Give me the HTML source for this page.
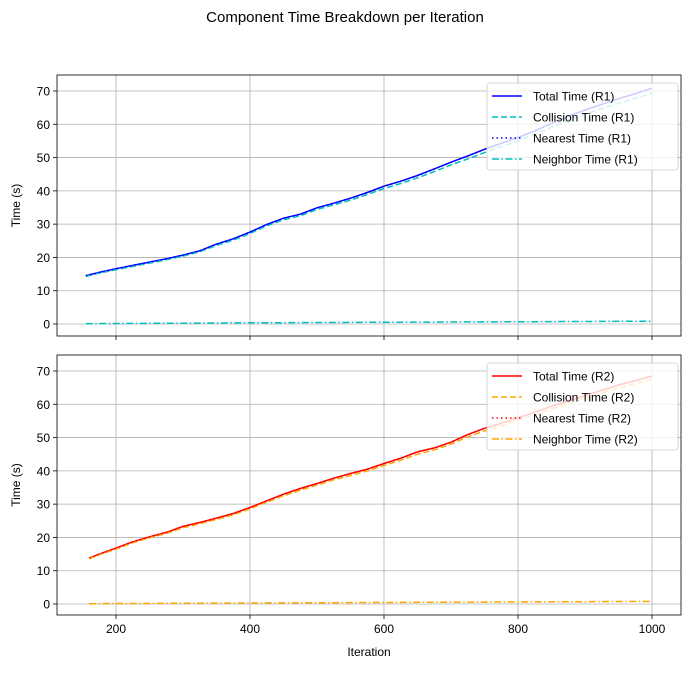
<!DOCTYPE html>
<html><head><meta charset="utf-8"><style>
body{margin:0;background:#fff;}
svg text{font-family:"Liberation Sans","DejaVu Sans",sans-serif;}
</style></head><body>
<svg id="c" width="690" height="669" xmlns="http://www.w3.org/2000/svg">
<rect width="690" height="669" fill="#fff"/>
<text x="345" y="22" text-anchor="middle" font-size="15">Component Time Breakdown per Iteration</text>
</svg>
<script>
const iters1=[155,175,200,225,250,275,300,325,350,375,400,425,450,475,500,525,550,575,600,625,650,675,700,725,750,775,800,825,850,875,900,925,950,975,1000];
const total1=[14.5,15.5,16.6,17.6,18.6,19.6,20.7,22,24,25.6,27.6,29.9,31.8,33,34.9,36.3,37.8,39.5,41.4,42.9,44.6,46.6,48.6,50.5,52.5,54.3,56,58,60.3,62.4,64.3,66,67.7,69.2,70.8];
const collision1=[14.3,15.3,16.3,17.3,18.3,19.3,20.4,21.7,23.6,25.2,27.2,29.5,31.3,32.5,34.4,35.8,37.2,38.9,40.7,42.2,43.9,45.8,47.8,49.6,51.5,53.3,55,57,59.1,61.2,63,64.7,66.3,67.8,69.3];
const nearest1=total1.map(v=>v);
const neighbor1=[0.1,0.12,0.15,0.17,0.2,0.22,0.25,0.27,0.3,0.32,0.35,0.37,0.4,0.42,0.44,0.46,0.48,0.5,0.52,0.54,0.56,0.58,0.6,0.62,0.64,0.66,0.68,0.7,0.72,0.74,0.76,0.78,0.8,0.82,0.85];
const iters2=[160,175,200,225,250,275,300,325,350,375,400,425,450,475,500,525,550,575,600,625,650,675,700,725,750,775,800,825,850,875,900,925,950,975,1000];
const total2=[13.8,15,16.8,18.7,20.2,21.5,23.3,24.5,25.8,27.2,29,31,33,34.7,36.2,37.8,39.2,40.5,42.2,43.8,45.7,46.9,48.6,50.9,52.8,54.3,55.9,57.6,59.4,61,62.6,64.2,65.8,67.1,68.5];
const collision2=[13.6,14.8,16.5,18.4,19.9,21.2,22.9,24.1,25.4,26.8,28.6,30.6,32.5,34.2,35.7,37.3,38.6,40,41.6,43.2,45,46.3,48,50.2,52,53.6,55.2,56.8,58.6,60.2,61.8,63.4,64.9,66.2,67.5];
const nearest2=total2.map(v=>v);
const neighbor2=[0.1,0.12,0.14,0.16,0.18,0.2,0.22,0.24,0.26,0.28,0.3,0.32,0.34,0.36,0.38,0.4,0.42,0.44,0.46,0.48,0.5,0.52,0.54,0.56,0.58,0.6,0.62,0.64,0.66,0.68,0.7,0.72,0.74,0.76,0.78];
const xTicks=[200,400,600,800,1000];
const yTicks=[0,10,20,30,40,50,60,70];

const NS="http://www.w3.org/2000/svg";
const svg=document.getElementById('c');
function el(t,a,p){const e=document.createElementNS(NS,t);for(const k in a)e.setAttribute(k,a[k]);(p||svg).appendChild(e);return e;}
const L=57,R=681;
const xs=v=>116+(v-200)*0.67;
function panel(top,bot,y70,y0,series,colors,labels,showX,pname){
  const g=el('g',{});
  
  
  const ys=v=>y0+(y70-y0)*v/70;
  xTicks.forEach(t=>{
    const x=xs(t);
    const gl=el('line',{x1:x,x2:x,y1:top,y2:bot,stroke:'#b0b0b0','stroke-width':0.8},g);
    
    el('line',{x1:x,x2:x,y1:bot,y2:bot+4,stroke:'#000','stroke-width':0.8},g);
    if(showX){const tx=el('text',{x:x,y:bot+18,'text-anchor':'middle','font-size':12},g);tx.textContent=t;
      }
  });
  yTicks.forEach(t=>{
    const y=ys(t);
    const gl=el('line',{x1:L,x2:R,y1:y,y2:y,stroke:'#b0b0b0','stroke-width':0.8},g);
    
    el('line',{x1:L-4,x2:L,y1:y,y2:y,stroke:'#000','stroke-width':0.8},g);
    const tx=el('text',{x:L-7,y:y+4.5,'text-anchor':'end','font-size':12},g);tx.textContent=t;
    
  });
  const dashes=['','6,3','1.5,3','7,2.5,1.5,2.5'];
  series.forEach((s,i)=>{
    const d=s.x.map((v,j)=>(j?'L':'M')+xs(v).toFixed(1)+','+ys(s.y[j]).toFixed(1)).join('');
    const p=el('path',{d:d,fill:'none',stroke:colors[i],'stroke-width':1.5,'stroke-dasharray':dashes[i]},g);
    
    
  });
  const fr=el('rect',{x:L,y:top,width:R-L,height:bot-top,fill:'none',stroke:'#000','stroke-width':0.8},g);
  
  const yl=el('text',{x:0,y:0,'text-anchor':'middle','font-size':12,transform:`translate(20,${(top+bot)/2}) rotate(-90)`},g);
  yl.textContent='Time (s)';
  
  const lg=el('g',{},g);
  
  el('rect',{x:487,y:top+8,width:191,height:87,rx:3,fill:'#fff','fill-opacity':0.8,stroke:'#ccc','stroke-width':0.8},lg);
  labels.forEach((lb,i)=>{
    const y=top+21+i*21;
    el('line',{x1:492,x2:522,y1:y,y2:y,stroke:colors[i],'stroke-width':1.5,'stroke-dasharray':dashes[i]},lg);
    const t=el('text',{x:533,y:y+4.5,'font-size':12},lg);t.textContent=lb;
    
  });
}
panel(75,336,91,324,[{x:iters1,y:total1},{x:iters1,y:collision1},{x:iters1,y:nearest1},{x:iters1,y:neighbor1}],
 ['#0000ff','#00bfbf','#0000ff','#00bfbf'],['Total Time (R1)','Collision Time (R1)','Nearest Time (R1)','Neighbor Time (R1)'],false,'top-panel');
panel(355,615,371,604,[{x:iters2,y:total2},{x:iters2,y:collision2},{x:iters2,y:nearest2},{x:iters2,y:neighbor2}],
 ['#ff0000','#ffa500','#ff0000','#ffa500'],['Total Time (R2)','Collision Time (R2)','Nearest Time (R2)','Neighbor Time (R2)'],true,'bottom-panel');
const xl=el('text',{x:369,y:656,'text-anchor':'middle','font-size':12});
xl.textContent='Iteration';


</script>
</body></html>
